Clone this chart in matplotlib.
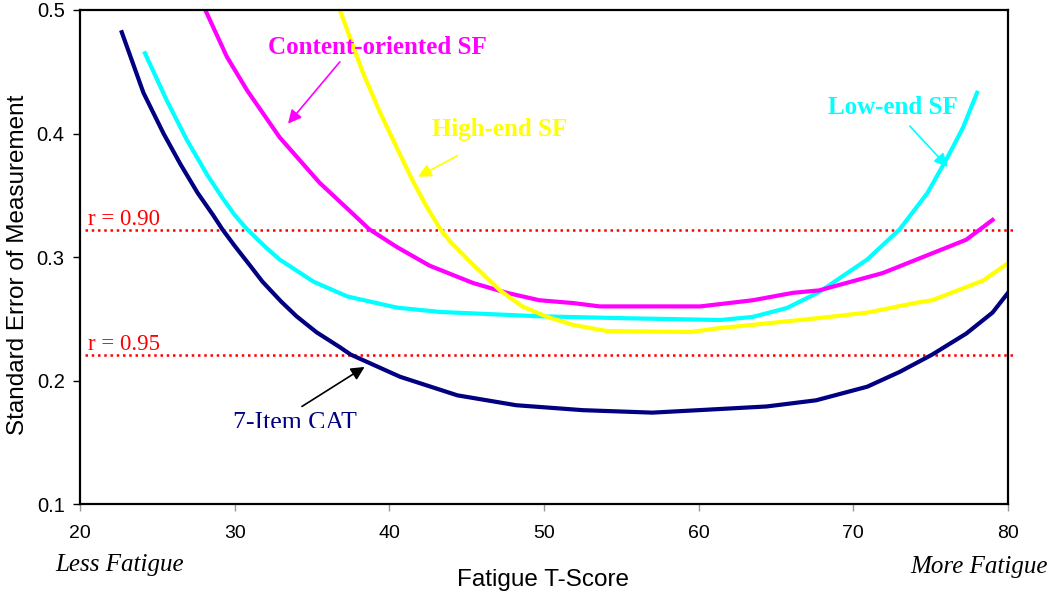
import matplotlib.pyplot as plt
from matplotlib.transforms import Bbox, TransformedBbox

# valores
cat_x = [22.7, 24.1, 25.4, 26.5, 27.6, 28.6, 29.2, 30.0, 31.0, 31.8, 33.0, 34.0, 35.3, 36.8,
         37.5, 40.7, 44.4, 48.2, 52.5, 57.0, 60.0, 64.4, 67.6, 70.9, 73.0, 75.1, 77.3, 79.0, 80.0]
cat_y = [0.482, 0.433, 0.400, 0.375, 0.352, 0.334, 0.3225, 0.309, 0.293, 0.280, 0.264, 0.252,
         0.239, 0.227, 0.221, 0.203, 0.188, 0.180, 0.176, 0.174, 0.176, 0.179, 0.184, 0.195,
         0.207, 0.221, 0.238, 0.255, 0.271]

low_x = [24.2, 25.6, 26.9, 28.2, 29.2, 30.0, 30.8, 32.0, 32.9, 35.1, 37.3, 40.5, 43.3, 49.7, 55.0,
         61.4, 63.5, 65.7, 67.8, 70.9, 73.0, 74.8, 76.1, 77.1, 78.0]
low_y = [0.465, 0.427, 0.395, 0.367, 0.348, 0.334, 0.3225, 0.308, 0.298, 0.280, 0.268, 0.259,
         0.2555, 0.252, 0.2505, 0.249, 0.2515, 0.2587, 0.2717, 0.298, 0.3225, 0.352, 0.381,
         0.405, 0.433]

content_x = [28.1, 29.5, 30.8, 32.9, 35.5, 37.3, 38.7, 40.5, 42.6, 45.4, 47.6, 49.7, 51.9,
             53.6, 60.1, 63.5, 66.1, 67.8, 71.9, 75.1, 77.3, 79.0]
content_y = [0.500, 0.462, 0.435, 0.397, 0.360, 0.339, 0.3225, 0.308, 0.293, 0.279, 0.271,
             0.265, 0.2627, 0.260, 0.260, 0.265, 0.271, 0.273, 0.287, 0.303, 0.314, 0.330]

high_x = [36.8, 38.3, 39.4, 40.5, 41.5, 42.4, 43.3, 43.9, 45.4, 47.15, 48.6, 50.2, 51.9, 54.1,
          59.5, 61.4, 64.6, 67.8, 70.9, 74.1, 75.1, 78.4, 80.0]
high_y = [0.500, 0.449, 0.417, 0.388, 0.362, 0.341, 0.3225, 0.313, 0.294, 0.273, 0.260, 0.2515,
          0.245, 0.240, 0.2393, 0.2425, 0.2465, 0.2506, 0.255, 0.263, 0.265, 0.281, 0.295]

ref_r = ['r = 0.90', 'r = 0.95']
ref_y = [0.322, 0.2206]

xticks = [20, 30, 40, 50, 60, 70, 80]
yticks = [0.1, 0.2, 0.3, 0.4, 0.5]

fig = plt.figure(figsize=(10.5, 5.95), dpi=100)
ax = fig.add_axes([0.0762, 0.1529, 0.8838, 0.8303])

serif = 'Liberation Serif'
sans = 'Liberation Sans'

for lab, yv in zip(ref_r, ref_y):
    ax.plot([20.35, 80.5], [yv, yv], color='red', ls=(0, (1, 1.5)), lw=1.8, clip_on=False)
    ax.text(20.5, yv + 0.004, lab, color='red', fontsize=16.5, family=serif, va='baseline')

ax.plot(low_x, low_y, color='#00FFFF', lw=3)
ax.plot(content_x, content_y, color='#FF00FF', lw=3)
ax.plot(high_x, high_y, color='#FFFF00', lw=3)
ax.plot(cat_x, cat_y, color='#000080', lw=3)

def flecha(p0, p1, col):
    ax.annotate('', xy=p1, xytext=p0,
                arrowprops=dict(arrowstyle='-|>', color=col, lw=1.2, mutation_scale=20,
                                shrinkA=0, shrinkB=0))

ax.text(39.2, 0.470, 'Content-oriented SF', color='#FF00FF', fontsize=18,
        fontweight='bold', family=serif, ha='center', va='center')
flecha((36.8, 0.458), (33.45, 0.408), '#FF00FF')
ax.text(47.15, 0.403, 'High-end SF', color='#FFFF00', fontsize=18,
        fontweight='bold', family=serif, ha='center', va='center')
flecha((44.4, 0.382), (41.85, 0.365), '#FFFF00')
ax.text(72.55, 0.421, 'Low-end SF', color='#00FFFF', fontsize=18,
        fontweight='bold', family=serif, ha='center', va='center')
flecha((73.65, 0.406), (76.1, 0.373), '#00FFFF')
t = ax.text(33.9, 0.1656, '7-Item CAT', color='#000080', fontsize=18.5, family=serif,
            ha='center', va='center')
# en el original la etiqueta sale cortada por abajo
t.set_clip_on(True)
t.set_clip_box(TransformedBbox(Bbox([[20, 0.1615], [80, 0.5]]), ax.transData))
flecha((34.35, 0.179), (38.4, 0.211), 'black')

ax.set_xlim(20, 80)
ax.set_ylim(0.1, 0.5)
ax.set_xticks(xticks)
ax.set_yticks(yticks)
ax.set_xticklabels([str(v) for v in xticks], family=sans, fontsize=14)
ax.set_yticklabels([f'{v:.1f}' for v in yticks], family=sans, fontsize=14.5)
ax.tick_params(axis='x', length=5, color='#999999', width=1, pad=10)
ax.tick_params(axis='y', length=5, width=1, pad=6)
for s in ax.spines.values():
    s.set_color('black')
    s.set_linewidth(1.6)

fig.text(0.517, 0.025, 'Fatigue T-Score', family=sans, fontsize=17.5, ha='center', va='center')
fig.text(0.017, 0.555, 'Standard Error of Measurement', family=sans, fontsize=17.5,
         rotation=90, ha='center', va='center')
fig.text(0.114, 0.05, 'Less Fatigue', family=serif, style='italic', fontsize=18,
         ha='center', va='center')
fig.text(0.998, 0.047, 'More Fatigue', family=serif, style='italic', fontsize=18,
         ha='right', va='center')

fig.savefig('out.png', dpi=100)
